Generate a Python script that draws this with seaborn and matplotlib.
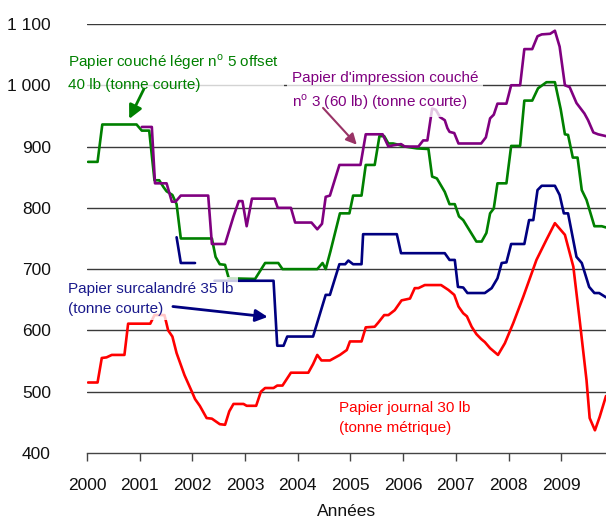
import pandas as pd
import matplotlib
matplotlib.use("Agg")
import matplotlib.pyplot as plt
import seaborn as sns

sns.set_theme(style="white")
plt.rcParams['font.family'] = ['Liberation Sans', 'DejaVu Sans']

# Données (années décimales, prix)
vert_annee = [2000.02, 2000.20, 2000.29, 2000.94, 2001.04, 2001.18, 2001.28, 2001.37, 2001.45, 2001.51,
              2001.62, 2001.70, 2001.78, 2002.37, 2002.44, 2002.52, 2002.62, 2002.69, 2003.19, 2003.38,
              2003.63, 2003.71, 2004.37, 2004.47, 2004.53, 2004.62, 2004.80, 2004.98, 2005.05, 2005.21,
              2005.29, 2005.46, 2005.55, 2005.64, 2005.72, 2005.81, 2005.91, 2006.03, 2006.26, 2006.48,
              2006.55, 2006.64, 2006.79, 2006.88, 2006.98, 2007.06, 2007.14, 2007.39, 2007.49, 2007.58,
              2007.65, 2007.72, 2007.79, 2007.96, 2008.05, 2008.22, 2008.30, 2008.45, 2008.56, 2008.72,
              2008.88, 2008.99, 2009.07, 2009.13, 2009.22, 2009.31, 2009.39, 2009.48, 2009.63, 2009.77,
              2009.85]
vert_prix = [875, 875, 936, 936, 926, 926, 845, 845, 834, 827,
             821, 806, 750, 750, 720, 708, 707, 685, 684, 710,
             710, 700, 700, 710, 700, 729, 791, 791, 820, 820,
             870, 870, 917, 917, 905, 905, 903, 900, 897, 896,
             851, 848, 826, 806, 806, 786, 780, 745, 745, 759,
             791, 799, 840, 840, 901, 901, 975, 975, 995, 1005,
             1005, 961, 920, 919, 882, 882, 829, 813, 770, 770,
             768]

violet_annee = [2001.04, 2001.23, 2001.29, 2001.51, 2001.61, 2001.68, 2001.78, 2002.30, 2002.37, 2002.62,
                2002.78, 2002.88, 2002.95, 2003.03, 2003.13, 2003.56, 2003.62, 2003.87, 2003.95, 2004.26,
                2004.37, 2004.46, 2004.53, 2004.61, 2004.79, 2005.19, 2005.29, 2005.61, 2005.72, 2005.81,
                2005.96, 2006.03, 2006.29, 2006.38, 2006.46, 2006.55, 2006.62, 2006.70, 2006.79, 2006.84,
                2006.88, 2006.97, 2007.05, 2007.48, 2007.57, 2007.65, 2007.72, 2007.79, 2007.96, 2008.05,
                2008.22, 2008.30, 2008.45, 2008.55, 2008.63, 2008.79, 2008.88, 2008.97, 2009.07, 2009.16,
                2009.29, 2009.44, 2009.51, 2009.61, 2009.70, 2009.85]
violet_prix = [932, 932, 840, 840, 810, 810, 820, 820, 741, 741,
               786, 811, 811, 770, 815, 815, 800, 800, 776, 776,
               765, 774, 818, 820, 870, 870, 920, 920, 900, 902,
               904, 900, 900, 910, 910, 962, 960, 948, 943, 930,
               924, 922, 905, 905, 915, 946, 952, 970, 970, 1000,
               1000, 1059, 1059, 1080, 1083, 1084, 1089, 1063, 1000, 997,
               971, 954, 943, 923, 920, 917]

bleu1_annee = [2001.70, 2001.78, 2002.05]
bleu1_prix = [752, 710, 710]

bleu2_annee = [2002.42, 2003.54, 2003.61, 2003.73, 2003.80, 2004.29, 2004.53, 2004.61, 2004.79, 2004.90,
               2004.96, 2005.05, 2005.21, 2005.24, 2005.88, 2005.96, 2006.79, 2006.88, 2006.98, 2007.04,
               2007.14, 2007.22, 2007.55, 2007.68, 2007.79, 2007.87, 2007.96, 2008.05, 2008.30, 2008.39,
               2008.47, 2008.55, 2008.63, 2008.88, 2008.97, 2009.05, 2009.13, 2009.29, 2009.39, 2009.53,
               2009.63, 2009.72, 2009.85]
bleu2_prix = [681, 681, 575, 575, 590, 590, 658, 658, 708, 708,
              714, 708, 708, 757, 757, 726, 726, 715, 715, 671,
              670, 661, 661, 669, 685, 710, 711, 741, 741, 780,
              780, 829, 836, 836, 821, 791, 791, 720, 710, 671,
              661, 661, 654]

rouge_annee = [2000.02, 2000.20, 2000.28, 2000.37, 2000.47, 2000.71, 2000.78, 2001.20, 2001.28, 2001.47,
               2001.54, 2001.62, 2001.70, 2001.85, 2001.99, 2002.05, 2002.14, 2002.27, 2002.37, 2002.52,
               2002.62, 2002.70, 2002.78, 2002.97, 2003.03, 2003.21, 2003.30, 2003.38, 2003.54, 2003.61,
               2003.71, 2003.87, 2004.20, 2004.29, 2004.37, 2004.45, 2004.61, 2004.80, 2004.93, 2004.99,
               2005.21, 2005.29, 2005.46, 2005.53, 2005.64, 2005.72, 2005.84, 2005.97, 2006.13, 2006.22,
               2006.29, 2006.41, 2006.72, 2006.86, 2006.97, 2007.05, 2007.14, 2007.21, 2007.30, 2007.39,
               2007.48, 2007.55, 2007.65, 2007.80, 2007.93, 2008.09, 2008.28, 2008.53, 2008.72, 2008.88,
               2009.07, 2009.23, 2009.35, 2009.48, 2009.54, 2009.64, 2009.73, 2009.85]
rouge_prix = [515, 515, 555, 556, 560, 560, 611, 611, 625, 625,
              600, 590, 563, 527, 500, 488, 477, 457, 456, 447,
              446, 468, 480, 480, 477, 477, 500, 506, 506, 510,
              510, 531, 531, 545, 560, 551, 551, 560, 568, 582,
              582, 605, 606, 613, 625, 625, 633, 649, 652, 669,
              669, 674, 674, 666, 658, 639, 628, 623, 606, 594,
              586, 581, 571, 560, 579, 612, 655, 715, 748, 775,
              756, 704, 617, 519, 457, 437, 459, 493]

annees = list(range(2000, 2010))
graduations = [400, 500, 600, 700, 800, 900, 1000, 1100]
etiquettes_y = ['400', '500', '600', '700', '800', '900', '1 000', '1 100']

VERT = '#008000'
VIOLET = '#800080'
BLEU = '#000080'
ROUGE = '#ff0000'

fig = plt.figure(figsize=(6.06, 5.19), dpi=100)
ax = fig.add_axes([0.1436, 0.1272, 0.8564, 0.8266])

# Grille horizontale
for g in graduations[1:]:
    ax.axhline(g, color='#3a3a3a', lw=1.0, zorder=1)

lw = 1.9
sns.lineplot(x=vert_annee, y=vert_prix, color=VERT, lw=lw, ax=ax, zorder=2)
sns.lineplot(x=violet_annee, y=violet_prix, color=VIOLET, lw=lw, ax=ax, zorder=2)
sns.lineplot(x=bleu1_annee, y=bleu1_prix, color=BLEU, lw=lw, ax=ax, zorder=2)
sns.lineplot(x=bleu2_annee, y=bleu2_prix, color=BLEU, lw=lw, ax=ax, zorder=2)
sns.lineplot(x=rouge_annee, y=rouge_prix, color=ROUGE, lw=lw, ax=ax, zorder=2)

ax.set_xlim(2000, 2009.85)
ax.set_ylim(400, 1100)
ax.set_xticks(annees)
ax.set_xticklabels([str(a) for a in annees], fontsize=12.5, color='#111111')
ax.set_yticks(graduations)
ax.set_yticklabels(etiquettes_y, fontsize=12.5, color='#111111')
ax.tick_params(axis='x', direction='out', length=6, width=1, color='#444444', pad=12, bottom=True)
ax.tick_params(axis='y', length=0, pad=26)
ax.set_xlabel('Années', fontsize=12.5, color='#111111', labelpad=8)
ax.set_ylabel('')
for s in ['left', 'right', 'top']:
    ax.spines[s].set_visible(False)
ax.spines['bottom'].set_color('#444444')
ax.spines['bottom'].set_linewidth(1)
ax.grid(False)

boite = dict(boxstyle='square,pad=0.3', facecolor='white', alpha=0.78, edgecolor='none')

# Étiquettes des séries
ax.text(1999.64, 1022, 'Papier couché léger n$^{\\mathregular{o}}$ 5 offset\n40 lb (tonne courte)',
        color=VERT, fontsize=11, ha='left', va='center', linespacing=1.55, bbox=boite, zorder=4, clip_on=False)
ax.text(2003.89, 990, "Papier d'impression couché\nn$^{\\mathregular{o}}$ 3 (60 lb) (tonne courte)",
        color=VIOLET, fontsize=11, ha='left', va='center', linespacing=1.55, bbox=boite, zorder=4)
ax.text(1999.64, 652, 'Papier surcalandré 35 lb\n(tonne courte)',
        color='#1a1a8c', fontsize=11, ha='left', va='center', linespacing=1.55, bbox=boite, zorder=4, clip_on=False)
ax.text(2004.78, 457, 'Papier journal 30 lb\n(tonne métrique)',
        color=ROUGE, fontsize=11, ha='left', va='center', linespacing=1.55, bbox=boite, zorder=4)

# Flèches
ax.annotate('', xy=(2000.80, 945), xytext=(2001.08, 994),
            arrowprops=dict(arrowstyle='-|>', color=VERT, lw=2, mutation_scale=20, shrinkA=0, shrinkB=0), zorder=5)
ax.annotate('', xy=(2005.12, 903), xytext=(2004.48, 963),
            arrowprops=dict(arrowstyle='-|>', color='#993366', lw=1.5, mutation_scale=16, shrinkA=0, shrinkB=0), zorder=5)
ax.annotate('', xy=(2003.43, 622), xytext=(2001.63, 639),
            arrowprops=dict(arrowstyle='-|>', color=BLEU, lw=2, mutation_scale=18, shrinkA=0, shrinkB=0), zorder=5)

plt.savefig('out.png', dpi=100)
